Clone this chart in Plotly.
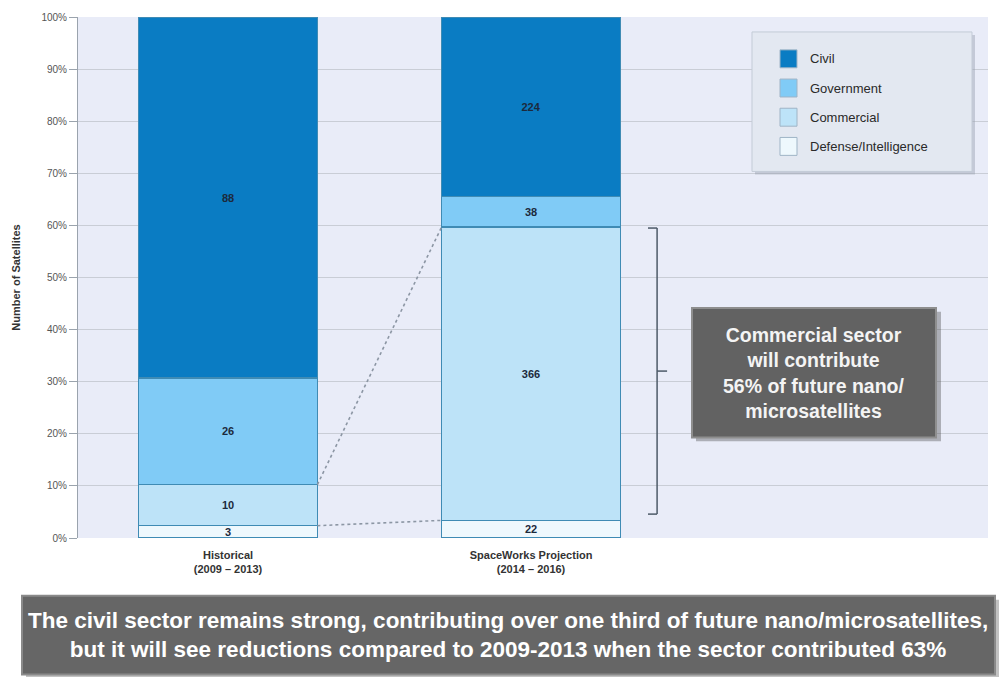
import plotly.graph_objects as go

# Satellite counts by sector for each period
periods = ["Historical<br>(2009 – 2013)", "SpaceWorks Projection<br>(2014 – 2016)"]
sectors = ["Defense/Intelligence", "Commercial", "Government", "Civil"]
defense = [3, 22]
commercial = [10, 366]
government = [26, 38]
civil = [88, 224]
series = [defense, commercial, government, civil]
colors = ["#eef8fd", "#bde3f8", "#80cbf6", "#0a7cc3"]
y_ticks = [0, 10, 20, 30, 40, 50, 60, 70, 80, 90, 100]
y_tick_text = [f"{v}%" for v in y_ticks]

W, H = 999, 677
L, R, T, B = 78, 11, 15, 139
BAR_W = 0.59
xpos = [0, 1]


def px(x):
    return (x - L) / (W - L - R)


def py(y):
    return (H - B - y) / (H - T - B)


fig = go.Figure()
for name, vals, col in zip(sectors, series, colors):
    fig.add_trace(go.Bar(
        x=xpos, y=vals, name=name, width=BAR_W,
        marker=dict(color=col, line=dict(color="#3f8bb4", width=1.2)),
        text=[f"<b>{v}</b>" for v in vals], textposition="inside", textangle=0,
        insidetextanchor="middle", constraintext="none",
        textfont=dict(family="Liberation Sans, Arial", size=11, color="#1c2a3c"),
        showlegend=False, hoverinfo="skip",
    ))

# Dotted connectors between the Commercial segment boundaries of both bars
totals = [sum(s[i] for s in series) for i in range(2)]
low = [100 * defense[i] / totals[i] for i in range(2)]
high = [100 * (defense[i] + commercial[i]) / totals[i] for i in range(2)]
for yy in (low, high):
    fig.add_trace(go.Scatter(
        x=[xpos[0] + BAR_W / 2, xpos[1] - BAR_W / 2], y=yy, mode="lines",
        line=dict(color="#8c96a4", width=1.6, dash="dot"),
        showlegend=False, hoverinfo="skip",
    ))

shapes = []
# Bracket beside the Commercial segment of the projection bar
bx, bl, br = 1.416, 1.386, 1.449
b_top, b_bot = high[1] - 0.2, low[1] + 1.2
b_mid = (b_top + b_bot) / 2
line_b = dict(color="#4d5a68", width=1.5)
shapes += [
    dict(type="line", xref="x", yref="y", x0=bx, x1=bx, y0=b_bot, y1=b_top, line=line_b),
    dict(type="line", xref="x", yref="y", x0=bl, x1=bx, y0=b_top, y1=b_top, line=line_b),
    dict(type="line", xref="x", yref="y", x0=bl, x1=bx, y0=b_bot, y1=b_bot, line=line_b),
    dict(type="line", xref="x", yref="y", x0=bx, x1=br, y0=b_mid, y1=b_mid, line=line_b),
]

# Callout box
shapes += [
    dict(type="rect", xref="paper", yref="paper", x0=px(696), x1=px(941), y0=py(441), y1=py(311),
         fillcolor="rgba(60,60,60,0.35)", line=dict(width=0), layer="above"),
    dict(type="rect", xref="paper", yref="paper", x0=px(692), x1=px(936), y0=py(437), y1=py(307),
         fillcolor="#626262", line=dict(color="#8e8e8e", width=2), layer="above"),
]

# Bottom banner
shapes += [
    dict(type="rect", xref="paper", yref="paper", x0=px(26), x1=px(999), y0=py(679), y1=py(600),
         fillcolor="rgba(80,80,80,0.35)", line=dict(width=0)),
    dict(type="rect", xref="paper", yref="paper", x0=px(22), x1=px(995), y0=py(675), y1=py(596),
         fillcolor="#666666", line=dict(color="#8a8a8a", width=2)),
]

# Legend panel
legend_items = list(zip(sectors[::-1], colors[::-1]))
shapes += [
    dict(type="rect", xref="paper", yref="paper", x0=px(755), x1=px(975), y0=py(173), y1=py(33),
         fillcolor="rgba(150,160,175,0.45)", line=dict(width=0)),
    dict(type="rect", xref="paper", yref="paper", x0=px(752), x1=px(972), y0=py(170), y1=py(30),
         fillcolor="#e3e8f1", line=dict(color="#c3cbd7", width=1)),
]
annotations = []
for i, (name, col) in enumerate(legend_items):
    cy = 57 + i * 29.3
    shapes.append(dict(type="rect", xref="paper", yref="paper", x0=px(780), x1=px(797),
                       y0=py(cy + 9), y1=py(cy - 9), fillcolor=col,
                       line=dict(color="#9fb4c6", width=1)))
    annotations.append(dict(xref="paper", yref="paper", x=px(808), y=py(cy), text=name,
                            showarrow=False, xanchor="left", yanchor="middle",
                            font=dict(family="Liberation Sans, Arial", size=13, color="#2a2a2a")))

annotations.append(dict(
    xref="paper", yref="paper", x=px(814), y=py(372),
    text="<b>Commercial sector<br>will contribute<br>56% of future nano/<br>microsatellites</b>",
    showarrow=False, xanchor="center", yanchor="middle", align="center",
    font=dict(family="Liberation Sans, Arial", size=19.5, color="#f4f4f4"),
))
annotations.append(dict(
    xref="paper", yref="paper", x=px(508), y=py(635),
    text="<b>The civil sector remains strong, contributing over one third of future nano/microsatellites,<br>"
         "but it will see reductions compared to 2009-2013 when the sector contributed 63%</b>",
    showarrow=False, xanchor="center", yanchor="middle", align="center",
    font=dict(family="Liberation Sans, Arial", size=22.5, color="#ffffff"),
))

fig.update_layout(
    width=W, height=H,
    margin=dict(l=L, r=R, t=T, b=B),
    barmode="stack", barnorm="percent",
    paper_bgcolor="white", plot_bgcolor="#e9ecf8",
    shapes=shapes, annotations=annotations, showlegend=False,
    xaxis=dict(
        range=[-0.495, 2.508], tickvals=xpos,
        ticktext=[f"<b>{p}</b>" for p in periods],
        tickfont=dict(family="Liberation Sans, Arial", size=11, color="#333"),
        ticklabelstandoff=9,
        showgrid=False, zeroline=False, ticks="", showline=False,
    ),
    yaxis=dict(
        range=[0, 100], tickmode="array", tickvals=y_ticks, ticktext=y_tick_text,
        tickfont=dict(family="Liberation Sans, Arial", size=10, color="#555"),
        showgrid=True, gridcolor="#c9cdd6", gridwidth=1,
        zeroline=False, showline=True, linecolor="#9aa3ad", linewidth=1,
        ticks="outside", ticklen=8, tickcolor="#9aa3ad",
        title=dict(text="<b>Number of Satellites</b>", standoff=18,
                   font=dict(family="Liberation Sans, Arial", size=11, color="#333")),
    ),
)

fig.write_html("out.html")
